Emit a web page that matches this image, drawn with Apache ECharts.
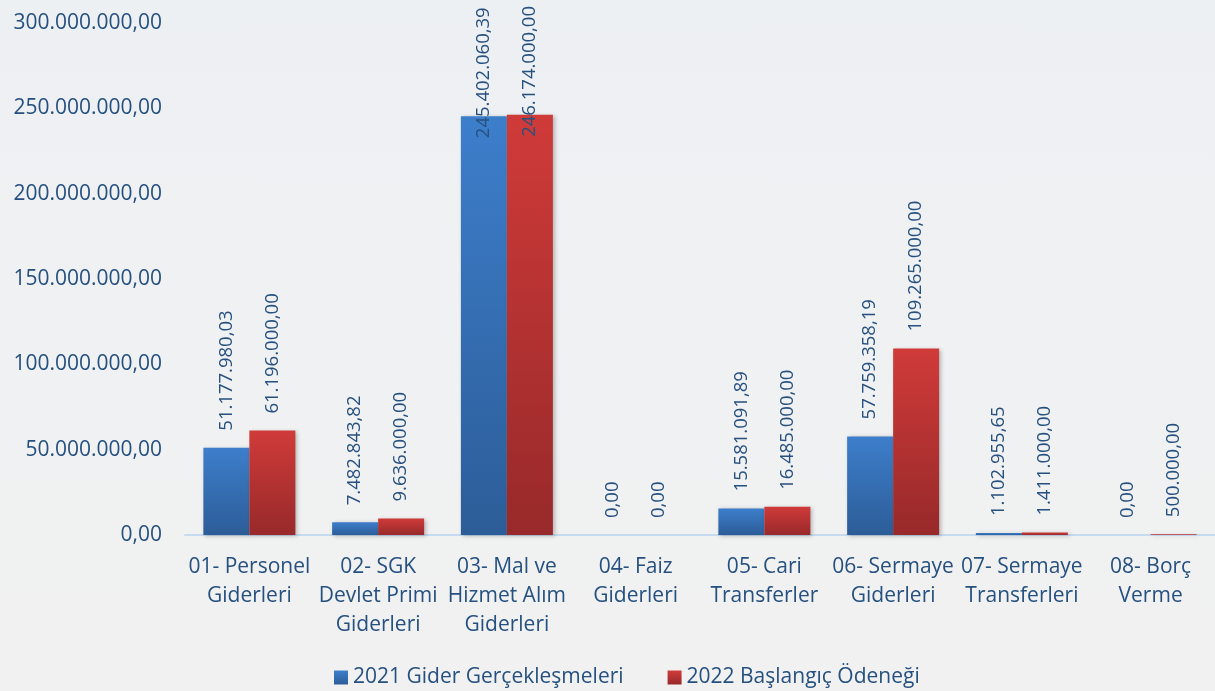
<!DOCTYPE html>
<html>
<head>
<meta charset="utf-8">
<script src="https://cdn.jsdelivr.net/npm/echarts@6/dist/echarts.min.js"></script>
<style>
  html, body { margin: 0; padding: 0; }
  body { background: linear-gradient(180deg, #edf0f3 0%, #f0f1f2 55%, #f1f1f1 100%); }
  #chart { width: 1215px; height: 691px; }
</style>
</head>
<body>
<div id="chart"></div>
<script>
// Budget expenditure by economic classification
const categories = [
  '01- Personel\nGiderleri',
  '02- SGK\nDevlet Primi\nGiderleri',
  '03- Mal ve\nHizmet Alım\nGiderleri',
  '04- Faiz\nGiderleri',
  '05- Cari\nTransferler',
  '06- Sermaye\nGiderleri',
  '07- Sermaye\nTransferleri',
  '08- Borç\nVerme'
];
const seriesNames = ['2021 Gider Gerçekleşmeleri', '2022 Başlangıç Ödeneği'];
const actual2021 = [51177980.03, 7482843.82, 245402060.39, 0, 15581091.89, 57759358.19, 1102955.65, 0];
const budget2022 = [61196000, 9636000, 246174000, 0, 16485000, 109265000, 1411000, 500000];
const yMin = 0, yMax = 300000000, yStep = 50000000;

const textColor = '#25507f';
const fontFamily = '"Open Sans", "Noto Sans", sans-serif';

// Turkish number format: 1.234.567,89
function trFormat(v) {
  const fixed = Number(v).toFixed(2);
  const [intPart, dec] = fixed.split('.');
  return intPart.replace(/\B(?=(\d{3})+(?!\d))/g, '.') + ',' + dec;
}

function grad(top, bottom) {
  return new echarts.graphic.LinearGradient(0, 0, 0, 1, [
    { offset: 0, color: top },
    { offset: 1, color: bottom }
  ]);
}

// Tall bars keep their value label inside the plot, starting just below the bar top
function toItems(values) {
  return values.map(v => v > 200000000
    ? { value: v, label: { position: 'insideTop', distance: 22, align: 'left', verticalAlign: 'middle' } }
    : v);
}

const barLabel = {
  show: true,
  position: 'top',
  rotate: 90,
  align: 'left',
  verticalAlign: 'middle',
  distance: 17,
  color: textColor,
  fontSize: 18.5,
  fontFamily: fontFamily,
  formatter: p => trFormat(p.value)
};

const shadow = { shadowBlur: 4, shadowColor: 'rgba(0,0,0,0.25)', shadowOffsetX: 2, shadowOffsetY: 1 };

const chart = echarts.init(document.getElementById('chart'), null, { renderer: 'canvas' });
chart.setOption({
  backgroundColor: 'transparent',
  animation: false,
  grid: { left: 185, right: 0, top: 23, bottom: 156, containLabel: false },
  legend: {
    bottom: -2,
    left: 329,
    icon: 'rect',
    itemWidth: 14,
    itemHeight: 14,
    itemGap: 44,
    textStyle: { color: textColor, fontSize: 21, fontFamily: fontFamily },
    data: seriesNames
  },
  xAxis: {
    type: 'category',
    data: categories,
    axisLine: { lineStyle: { color: '#c6daf0', width: 2 } },
    axisTick: { show: false },
    axisLabel: {
      interval: 0,
      color: textColor,
      fontSize: 21,
      lineHeight: 29,
      fontFamily: fontFamily,
      margin: 18
    }
  },
  yAxis: {
    type: 'value',
    min: yMin,
    max: yMax,
    interval: yStep,
    axisLine: { show: false },
    axisTick: { show: false },
    splitLine: { show: false },
    axisLabel: {
      color: textColor,
      fontSize: 21,
      fontFamily: fontFamily,
      margin: 23,
      formatter: v => trFormat(v)
    }
  },
  series: [
    {
      name: seriesNames[0],
      type: 'bar',
      data: toItems(actual2021),
      barWidth: 46,
      barGap: '0%',
      itemStyle: Object.assign({ color: grad('#3d7ecb', '#2c5d98') }, shadow),
      label: barLabel
    },
    {
      name: seriesNames[1],
      type: 'bar',
      data: toItems(budget2022),
      barWidth: 46,
      barGap: '0%',
      itemStyle: Object.assign({ color: grad('#cf3b39', '#98292a') }, shadow),
      label: barLabel
    }
  ]
});
</script>
</body>
</html>
